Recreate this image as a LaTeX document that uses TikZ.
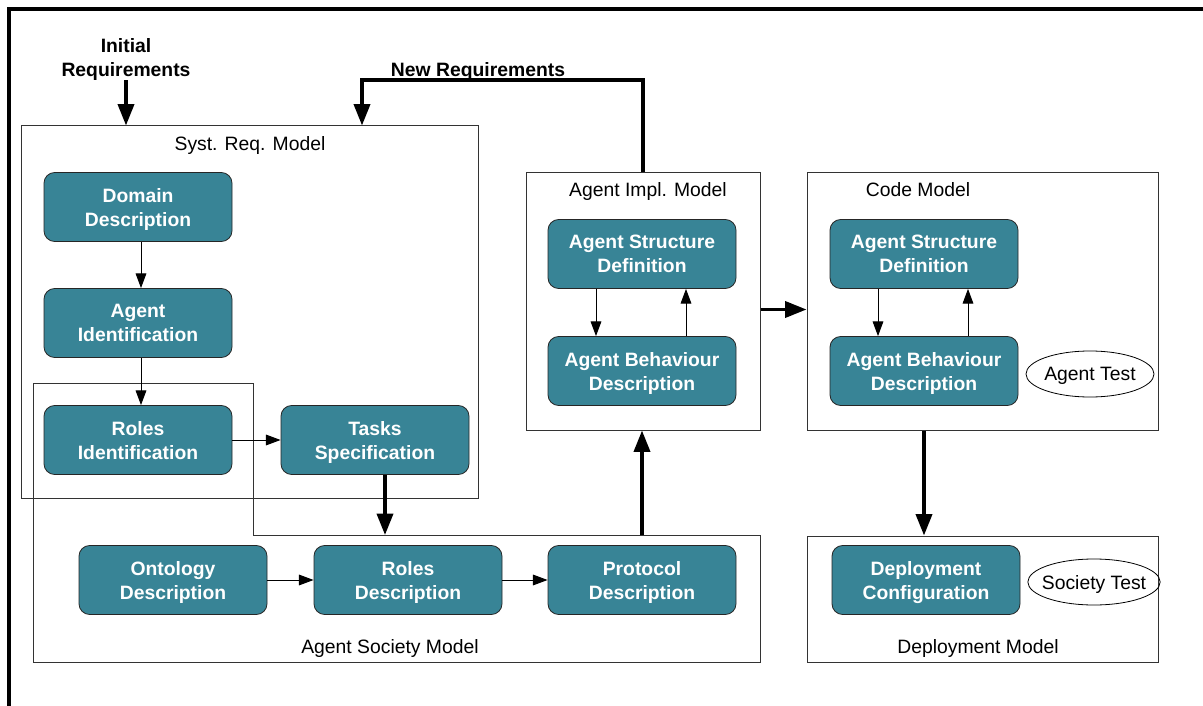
\documentclass[tikz,border=0pt]{standalone}
\usepackage{fontspec}
\setmainfont{Liberation Sans}
\usetikzlibrary{arrows.meta,shapes.geometric}
\definecolor{taskteal}{RGB}{56,132,150}
\tikzset{
    task/.style={draw=black!85, fill=taskteal, rounded corners=8pt, line width=0.6pt,
        minimum width=141pt, minimum height=51.75pt, align=center, text=white,
        text depth=-1.5pt, font=\fontsize{14.5}{18}\selectfont\bfseries},
    model/.style={draw=black!80, line width=0.75pt, inner sep=0pt},
    lbl/.style={font=\fontsize{14.5}{18}\selectfont, inner sep=0pt, text depth=0pt},
    req/.style={font=\fontsize{14.5}{18}\selectfont\bfseries, align=center,
        inner sep=0pt, text depth=0pt},
    testcase/.style={draw, ellipse, line width=0.6pt, inner ysep=0pt, inner xsep=-4pt,
        minimum height=34.5pt, text depth=0pt, font=\fontsize{14.5}{18}\selectfont},
    thinarrow/.style={-{Triangle[length=11pt,width=8pt]}, line width=0.75pt},
    bigarrow/.style={-{Triangle[length=16pt,width=12pt]}, line width=2.6pt}
}
\begin{document}
\begin{tikzpicture}[x=0.75pt,y=-0.75pt]
    \useasboundingbox (0,0) rectangle (1203,706);
    \draw[line width=2.5pt] (9,706) -- (9,9) -- (1203,9);
    % models
    \node[model, minimum width=342.75pt, minimum height=279pt] (sysreq) at (249.5,312) {};
    \node[model, minimum width=175.5pt, minimum height=192.75pt] (implM) at (643,301.5) {};
    \node[model, minimum width=263.25pt, minimum height=192.75pt] (codeM) at (982.5,301.5) {};
    \node[model, minimum width=263.25pt, minimum height=94.5pt] (deployM) at (982.5,599) {};
    \draw[draw=black!80, line width=0.75pt] (33,383) -- (253,383) -- (253,535)
        coordinate (socTop) -- (760,535) -- (760,662) -- (33,662) -- cycle;
    \node[lbl] (sysreqL) at (250,143) {Syst. Req. Model};
    \node[lbl] (implL) at (648,189) {Agent Impl. Model};
    \node[lbl] (codeL) at (918,189) {Code Model};
    \node[lbl] (socL) at (390,646) {Agent Society Model};
    \node[lbl] (deployL) at (978,646) {Deployment Model};
    % tasks
    \node[task] (domain) at (138,207) {Domain\\Description};
    \node[task] (agentId) at (138,323) {Agent\\Identification};
    \node[task] (rolesId) at (138,440) {Roles\\Identification};
    \node[task] (tasks) at (375,440) {Tasks\\Specification};
    \node[task] (onto) at (173,580) {Ontology\\Description};
    \node[task] (rolesDesc) at (408,580) {Roles\\Description};
    \node[task] (proto) at (642,580) {Protocol\\Description};
    \node[task] (implStruct) at (642,254) {Agent Structure\\Definition};
    \node[task] (implBehav) at (642,371) {Agent Behaviour\\Description};
    \node[task] (codeStruct) at (924,254) {Agent Structure\\Definition};
    \node[task] (codeBehav) at (924,371) {Agent Behaviour\\Description};
    \node[task] (deploy) at (926,580) {Deployment\\Configuration};
    \node[testcase, minimum width=96pt] (agentTest) at (1090,374) {Agent Test};
    \node[testcase, minimum width=94.5pt] (socTest) at (1094,582) {Society Test};
    % requirements
    \node[req] (initReq) at (126,57.5) {Initial\\Requirements};
    \node[req] (newReq) at (478,69) {New Requirements};
    \coordinate (turn) at (362,80);
    \draw[bigarrow] ([yshift=-2.5pt]initReq.south) -- (initReq.south |- sysreq.north);
    \draw[bigarrow, line join=miter] (implM.north) |- (turn) -- (turn |- sysreq.north);
    % flow
    \draw[thinarrow] ([xshift=2.25pt]domain.south) -- ([xshift=2.25pt]agentId.north);
    \draw[thinarrow] ([xshift=2.25pt]agentId.south) -- ([xshift=2.25pt]rolesId.north);
    \draw[thinarrow] (rolesId) -- (tasks);
    \draw[thinarrow] (onto) -- (rolesDesc);
    \draw[thinarrow] (rolesDesc) -- (proto);
    \draw[bigarrow] ([xshift=7.5pt]tasks.south) -- ([xshift=7.5pt]tasks.south |- socTop);
    \draw[bigarrow] (proto.north |- socTop) -- (proto.north |- implM.south);
    \draw[bigarrow] ([yshift=-6pt]implM.east) -- ([yshift=-6pt]implM.east -| codeM.west);
    \draw[bigarrow] (codeBehav.south |- codeM.south) -- (codeBehav.south |- deployM.north);
    \foreach \m in {impl,code}{
        \draw[thinarrow] ([xshift=-34.5pt]\m Struct.south) -- ([xshift=-34.5pt]\m Behav.north);
        \draw[thinarrow] ([xshift=33pt]\m Behav.north) -- ([xshift=33pt]\m Struct.south);
    }
\end{tikzpicture}
\end{document}
